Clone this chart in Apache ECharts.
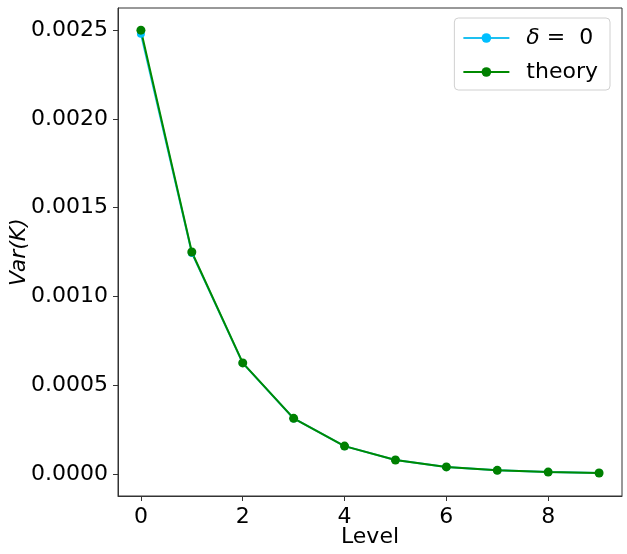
<!DOCTYPE html>
<html>
<head>
<meta charset="utf-8">
<script src="https://cdn.jsdelivr.net/npm/echarts@6/dist/echarts.min.js"></script>
<style>
  html, body { margin: 0; padding: 0; background: #fff; }
  #chart { width: 627px; height: 554px; }
</style>
</head>
<body>
<div id="chart"></div>
<script>
// data
const levels = [0, 1, 2, 3, 4, 5, 6, 7, 8, 9]
const deltaZero = [0.00248, 0.001245, 0.000624, 0.000312, 0.000156, 0.000078, 0.000039, 0.0000195, 0.0000098, 0.0000049]
const theory = [0.0025, 0.00125, 0.000625, 0.0003125, 0.00015625, 0.000078, 0.000039, 0.0000195, 0.0000098, 0.0000049]
const xTicks = [0, 2, 4, 6, 8]
const yTicks = [0, 0.0005, 0.001, 0.0015, 0.002, 0.0025]

const font = 'DejaVu Sans'
const chart = echarts.init(document.getElementById('chart'))

const pairs = arr => levels.map((x, i) => [x, arr[i]])

const options = {
  animation: false,
  textStyle: { fontFamily: font },
  grid: {
    left: 118, top: 8, width: 504, height: 488,
    outerBoundsMode: 'none', containLabel: false,
    show: true, borderColor: '#333', borderWidth: 1
  },
  legend: {
    right: 17, top: 18,
    orient: 'vertical',
    itemWidth: 46, itemHeight: 12, itemGap: 12,
    padding: [9, 12, 7, 8],
    backgroundColor: '#fff',
    borderColor: '#d0d0d0', borderWidth: 1, borderRadius: 4,
    textStyle: {
      fontSize: 22, color: '#000', fontFamily: font, padding: [0, 0, 0, 12],
      rich: { i: { fontStyle: 'italic', fontSize: 22, fontFamily: font } }
    },
    formatter: name => name === 'delta0' ? '{i|δ} =  0' : name,
    data: ['delta0', 'theory']
  },
  xAxis: {
    type: 'value',
    min: -0.45, max: 9.45,
    name: 'Level', nameLocation: 'middle', nameGap: 30, nameMoveOverlap: false,
    nameTextStyle: { fontSize: 22, color: '#000', fontFamily: font },
    axisLine: { show: true, onZero: false, lineStyle: { color: '#333' } },
    axisTick: { show: true, length: 5, lineStyle: { color: '#333' }, customValues: xTicks },
    axisLabel: { fontSize: 22, color: '#000', margin: 10, customValues: xTicks, formatter: v => String(Math.round(v)) },
    splitLine: { show: false }
  },
  yAxis: {
    type: 'value',
    min: -0.000125, max: 0.002625,
    name: 'Var(K)', nameLocation: 'middle', nameGap: 88, nameMoveOverlap: false,
    nameTextStyle: { fontSize: 22, color: '#000', fontFamily: font, fontStyle: 'italic' },
    axisLine: { show: true, onZero: false, lineStyle: { color: '#333' } },
    axisTick: { show: true, length: 5, lineStyle: { color: '#333' }, customValues: yTicks },
    axisLabel: { fontSize: 22, color: '#000', margin: 10, customValues: yTicks, formatter: v => v.toFixed(4) },
    splitLine: { show: false }
  },
  series: [
    {
      name: 'delta0',
      type: 'line',
      data: pairs(deltaZero),
      symbol: 'circle', symbolSize: 8,
      lineStyle: { color: '#1ec0f0', width: 2 },
      itemStyle: { color: '#00bfff' }
    },
    {
      name: 'theory',
      type: 'line',
      data: pairs(theory),
      symbol: 'circle', symbolSize: 9,
      lineStyle: { color: '#008a00', width: 2 },
      itemStyle: { color: '#008000' }
    }
  ]
}

chart.setOption(options)
</script>
</body>
</html>
